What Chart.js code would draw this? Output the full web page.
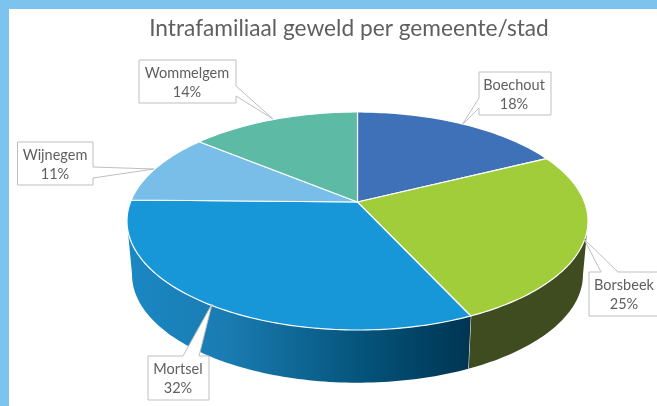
<!DOCTYPE html>
<html>
<head>
<meta charset="utf-8">
<title>Intrafamiliaal geweld</title>
<script src="https://cdn.jsdelivr.net/npm/chart.js@4"></script>
<style>
  html, body { margin: 0; padding: 0; background: #fff; overflow: hidden; }
  canvas { display: block; }
</style>
</head>
<body>
<canvas id="pie" width="657" height="406"></canvas>
<script>
const gemeenten = ['Boechout', 'Borsbeek', 'Mortsel', 'Wijnegem', 'Wommelgem'];
const percentages = [17.7, 25.4, 32.2, 10.6, 14.1];
const sliceColors = ['#3f71b9', '#a2cd3a', '#1797d8', '#79bde9', '#5dbba5'];
const sideColors = ['#2a4a7a', '#3f4c20', null, '#4f7d9a', '#3d7b6c'];

// callout boxes, same order as gemeenten: box, pointer tip, where the pointer leaves the box
const callouts = [
  { x: 479, y: 72, w: 72, h: 43, tip: [462, 125], side: 'left', from: 98, to: 108 },
  { x: 589, y: 272, w: 72, h: 44, tip: [584, 239], side: 'top', from: 601, to: 618 },
  { x: 148, y: 356, w: 61, h: 44, tip: [212, 304], side: 'top', from: 183, to: 199 },
  { x: 17.5, y: 142, w: 75.5, h: 43, tip: [154, 169], side: 'right', from: 167, to: 178 },
  { x: 139, y: 60, w: 97, h: 43, tip: [273, 119], side: 'right', from: 86, to: 96 }
];
const labelCenters = [514, 624, 178, 55, 187];

// perspective of the disc, top face and bottom rim
const CX = 357.5, K = 0.1743;
const WIDEST = Math.asin(K); // angle where the projected disc is at its widest
const topFace = { a: 227, b: 70.5, c: 202 };
const bottomRim = { a: 222, b: 60, c: 256 };

function project(face, angle) {
  const u = Math.cos(angle), v = Math.sin(angle);
  const w = 1 - K * v;
  return [CX + face.a * u / w, (face.b * v + face.c) / w];
}

function rimPoints(face, from, to) {
  const steps = Math.max(2, Math.ceil(Math.abs(to - from) / 0.02));
  const pts = [];
  for (let i = 0; i <= steps; i++) {
    pts.push(project(face, from + (to - from) * i / steps));
  }
  return pts;
}

function tracePoints(ctx, pts) {
  pts.forEach((p, i) => i ? ctx.lineTo(p[0], p[1]) : ctx.moveTo(p[0], p[1]));
}

function drawSide(ctx, arc, index) {
  // only the part between the two widest points of the disc shows a side
  const start = Math.max(arc.startAngle, WIDEST);
  const end = Math.min(arc.endAngle, Math.PI - WIDEST);
  if (end <= start) return;
  ctx.beginPath();
  tracePoints(ctx, rimPoints(topFace, start, end));
  rimPoints(bottomRim, end, start).forEach(p => ctx.lineTo(p[0], p[1]));
  ctx.closePath();
  if (sideColors[index]) {
    ctx.fillStyle = sideColors[index];
  } else {
    const g = ctx.createLinearGradient(127, 0, 470, 0);
    g.addColorStop(0, '#1a88c4');
    g.addColorStop(0.3, '#1a7bb0');
    g.addColorStop(0.7, '#045279');
    g.addColorStop(1, '#003552');
    ctx.fillStyle = g;
  }
  ctx.fill();
  // white seam where two slices meet on the side
  if (arc.endAngle < Math.PI - WIDEST) {
    const a = project(topFace, arc.endAngle), b = project(bottomRim, arc.endAngle);
    ctx.beginPath();
    ctx.moveTo(a[0], a[1]);
    ctx.lineTo(b[0], b[1]);
    ctx.strokeStyle = '#fff';
    ctx.lineWidth = 1;
    ctx.stroke();
  }
}

function drawTop(ctx, arc) {
  ctx.beginPath();
  ctx.moveTo(CX, topFace.c);
  rimPoints(topFace, arc.startAngle, arc.endAngle).forEach(p => ctx.lineTo(p[0], p[1]));
  ctx.closePath();
  ctx.fillStyle = arc.options.backgroundColor;
  ctx.fill();
  ctx.strokeStyle = '#fff';
  ctx.lineWidth = 1.2;
  ctx.lineJoin = 'round';
  ctx.stroke();
}

function drawCallout(ctx, c, lines, cx) {
  const r = c.x + c.w, b = c.y + c.h;
  ctx.beginPath();
  ctx.moveTo(c.x, c.y);
  if (c.side === 'top') {
    ctx.lineTo(c.from, c.y); ctx.lineTo(c.tip[0], c.tip[1]); ctx.lineTo(c.to, c.y);
  }
  ctx.lineTo(r, c.y);
  if (c.side === 'right') {
    ctx.lineTo(r, c.from); ctx.lineTo(c.tip[0], c.tip[1]); ctx.lineTo(r, c.to);
  }
  ctx.lineTo(r, b);
  ctx.lineTo(c.x, b);
  if (c.side === 'left') {
    ctx.lineTo(c.x, c.to); ctx.lineTo(c.tip[0], c.tip[1]); ctx.lineTo(c.x, c.from);
  }
  ctx.closePath();
  ctx.fillStyle = '#fff';
  ctx.fill();
  ctx.strokeStyle = '#bfbfbf';
  ctx.lineWidth = 1;
  ctx.lineJoin = 'miter';
  ctx.stroke();

  ctx.fillStyle = '#5f5f5f';
  ctx.font = '14.5px Lato';
  ctx.textAlign = 'center';
  ctx.textBaseline = 'middle';
  ctx.fillText(lines[0], cx, c.y + 13);
  ctx.fillText(lines[1], cx, c.y + 32);
}

const pie3d = {
  id: 'pie3d',
  beforeDraw(chart) {
    const { ctx, width, height } = chart;
    ctx.save();
    ctx.fillStyle = '#7cc4ee';
    ctx.fillRect(0, 0, width, height);
    ctx.fillStyle = '#fff';
    ctx.fillRect(9, 9, width - 9, height - 9);
    ctx.restore();
  },
  beforeDatasetDraw(chart, args) {
    const { ctx } = chart;
    const arcs = chart.getDatasetMeta(args.index).data;
    ctx.save();
    arcs.forEach((arc, i) => drawSide(ctx, arc, i));
    arcs.forEach(arc => drawTop(ctx, arc));
    ctx.restore();
    return false; // the flat arcs are replaced by the projected ones
  },
  afterDraw(chart) {
    const { ctx } = chart;
    ctx.save();
    chart.data.labels.forEach((name, i) => {
      drawCallout(ctx, callouts[i], [name, Math.round(percentages[i]) + '%'], labelCenters[i]);
    });
    ctx.restore();
  }
};

new Chart(document.getElementById('pie'), {
  type: 'pie',
  data: {
    labels: gemeenten,
    datasets: [{ data: percentages, backgroundColor: sliceColors, borderWidth: 0 }]
  },
  options: {
    responsive: false,
    animation: false,
    layout: { padding: { left: 41, top: 0 } },
    plugins: {
      legend: { display: false },
      tooltip: { enabled: false },
      title: {
        display: true,
        text: 'Intrafamiliaal geweld per gemeente/stad',
        color: '#5f5f5f',
        font: { family: 'Lato', size: 22.7, weight: 'normal' },
        padding: { top: 15, bottom: 10 }
      }
    }
  },
  plugins: [pie3d]
});
</script>
</body>
</html>
